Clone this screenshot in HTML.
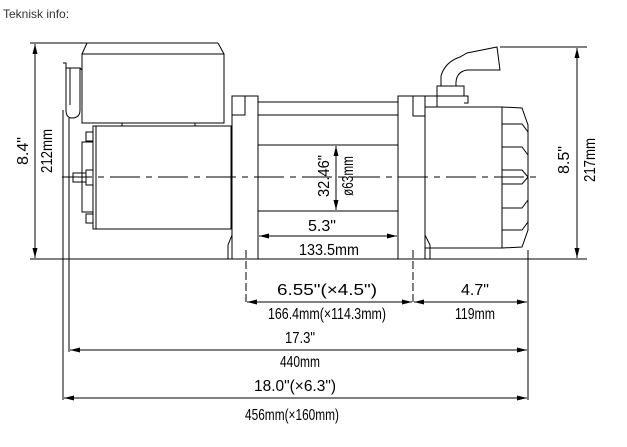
<!DOCTYPE html>
<html><head><meta charset="utf-8"><style>
html,body{margin:0;padding:0;background:#fff;width:627px;height:447px;overflow:hidden}
svg{display:block}
.t{font-family:"Liberation Sans",sans-serif;font-size:16px;fill:#000}
.h{font-family:"Liberation Sans",sans-serif;font-size:12px;fill:#333}
</style></head><body>
<svg width="627" height="447" viewBox="0 0 627 447" xmlns="http://www.w3.org/2000/svg">
<defs>
<marker id="a" markerWidth="10" markerHeight="6" refX="10" refY="3" orient="auto-start-reverse" markerUnits="userSpaceOnUse"><path d="M0,0.5 L10,3 L0,5.5 z" fill="#000"/></marker>
</defs>
<text x="3" y="18" class="h">Teknisk info:</text>
<g stroke="#000" stroke-width="1" fill="none">
<line x1="30" y1="43" x2="218" y2="43"/>
<line x1="30" y1="259" x2="587" y2="259"/>
<line x1="500" y1="47" x2="587" y2="47"/>
<line x1="35" y1="44" x2="35" y2="258" marker-start="url(#a)" marker-end="url(#a)"/>
<line x1="577" y1="48" x2="577" y2="258" marker-start="url(#a)" marker-end="url(#a)"/>
<path d="M82,54 L87,43 M218,43 L224,54"/>
<rect x="82" y="54" width="142" height="69"/>
<path d="M122,123 L122,126 M195,123 L195,126"/>
<path d="M63,63 L66,63 L66,110 Q66,118 72,118 Q80,118 80,110 L80,68 L66,68"/>
<path d="M66,68 L80,68 L82,70 M70,68 L70,105"/>
<line x1="63" y1="110" x2="63" y2="400"/>
<line x1="69" y1="118" x2="69" y2="352"/>
<rect x="93" y="126" width="138" height="103"/>
<line x1="96" y1="126" x2="96" y2="229"/>
<rect x="82" y="142" width="11" height="70"/>
<rect x="86" y="132" width="7" height="9"/>
<rect x="86" y="214" width="7" height="9"/>
<rect x="86" y="170" width="7" height="15"/>
<rect x="73" y="173" width="13" height="9"/>
<rect x="232" y="96" width="26" height="163"/>
<rect x="232" y="96" width="13" height="19"/>
<path d="M228,259 L228,245 L232,235"/>
<line x1="258" y1="102" x2="398" y2="102"/>
<line x1="258" y1="115" x2="398" y2="115"/>
<line x1="258" y1="145" x2="398" y2="145"/>
<line x1="258" y1="211" x2="398" y2="211"/>
<rect x="398" y="96" width="27" height="163"/>
<rect x="413" y="96" width="12" height="20"/>
<path d="M425,235 L430,245 L430,259"/>
<rect x="425" y="107" width="77" height="141"/>
<path d="M425,96 L437,96 L437,107 M464,96 L468,96 L468,103 L464,103"/>
<rect x="437" y="86" width="27" height="10"/>
<path d="M441,86 L441,76 Q445,62 460,57 L467,53 L497,47 L500,70 L467,70 Q455,72 456,86"/>
<path d="M502,107 L522,108 L528,125 L528,230 L522,247 L502,248"/>
<path d="M502,124 L522,124 L528,132 M502,147 L522,147 L528,155 M502,170 L522,170 L528,177 M502,184 L522,184 L528,177 M502,208 L522,208 L528,200 M502,230 L522,230 L528,222"/>
<line x1="62" y1="177" x2="540" y2="177" stroke-dasharray="30,6,6,6"/>
<line x1="336" y1="146" x2="336" y2="210" marker-start="url(#a)" marker-end="url(#a)"/>
<line x1="259" y1="236" x2="397" y2="236" marker-start="url(#a)" marker-end="url(#a)"/>
<line x1="246" y1="250" x2="246" y2="305" stroke-dasharray="8,3"/>
<line x1="413" y1="250" x2="413" y2="305" stroke-dasharray="8,3"/>
<line x1="528" y1="250" x2="528" y2="400"/>
<line x1="247" y1="302" x2="412" y2="302" marker-start="url(#a)" marker-end="url(#a)"/>
<line x1="414" y1="302" x2="527" y2="302" marker-start="url(#a)" marker-end="url(#a)"/>
<line x1="70" y1="350" x2="527" y2="350" marker-start="url(#a)" marker-end="url(#a)"/>
<line x1="64" y1="398" x2="527" y2="398" marker-start="url(#a)" marker-end="url(#a)"/>
</g>
<g class="t" text-anchor="middle">
<text transform="translate(28,151) rotate(-90)" textLength="28" lengthAdjust="spacingAndGlyphs">8.4"</text>
<text transform="translate(52,151) rotate(-90)" textLength="44" lengthAdjust="spacingAndGlyphs">212mm</text>
<text transform="translate(569,160) rotate(-90)" textLength="28" lengthAdjust="spacingAndGlyphs">8.5"</text>
<text transform="translate(595,160) rotate(-90)" textLength="44" lengthAdjust="spacingAndGlyphs">217mm</text>
<text transform="translate(329,176) rotate(-90)" textLength="42" lengthAdjust="spacingAndGlyphs">32.46"</text>
<text transform="translate(353,176) rotate(-90)" textLength="40" lengthAdjust="spacingAndGlyphs">ø63mm</text>
<text x="322" y="231" textLength="28" lengthAdjust="spacingAndGlyphs">5.3"</text>
<text x="329" y="255" textLength="60" lengthAdjust="spacingAndGlyphs">133.5mm</text>
<text x="327" y="295" textLength="100" lengthAdjust="spacingAndGlyphs">6.55"(×4.5")</text>
<text x="327" y="319" textLength="118" lengthAdjust="spacingAndGlyphs">166.4mm(×114.3mm)</text>
<text x="475" y="295" textLength="28" lengthAdjust="spacingAndGlyphs">4.7"</text>
<text x="475" y="319" textLength="40" lengthAdjust="spacingAndGlyphs">119mm</text>
<text x="300" y="343" textLength="30" lengthAdjust="spacingAndGlyphs">17.3"</text>
<text x="300" y="367" textLength="40" lengthAdjust="spacingAndGlyphs">440mm</text>
<text x="295" y="391" textLength="82" lengthAdjust="spacingAndGlyphs">18.0"(×6.3")</text>
<text x="292" y="420" textLength="94" lengthAdjust="spacingAndGlyphs">456mm(×160mm)</text>
</g>
</svg>
</body></html>
